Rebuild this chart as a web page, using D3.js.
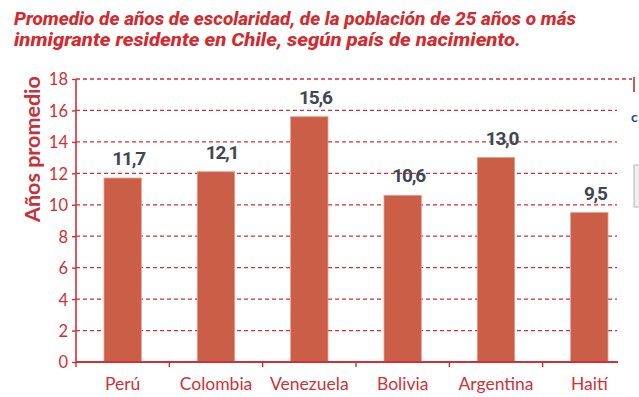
<!DOCTYPE html>
<html>
<head>
<meta charset="utf-8">
<script src="https://cdn.jsdelivr.net/npm/d3@7"></script>
<style>
  html, body { margin: 0; padding: 0; background: #fff; }
  svg { display: block; }
</style>
</head>
<body>
<svg id="chart" width="639" height="397"></svg>
<script>
const categories = ["Perú", "Colombia", "Venezuela", "Bolivia", "Argentina", "Haití"];
const values = [11.7, 12.1, 15.6, 10.6, 13.0, 9.5];
const valueLabels = ["11,7", "12,1", "15,6", "10,6", "13,0", "9,5"];
const yTicks = [0, 2, 4, 6, 8, 10, 12, 14, 16, 18];
const titleLines = [
  "Promedio de años de escolaridad, de la población de 25 años o más",
  "inmigrante residente en Chile, según país de nacimiento."
];
const yTitle = "Años promedio";

const svg = d3.select("#chart");
const red = "#cf3138";
const barFill = "#cb5e47";

const x = d3.scaleBand().domain(categories).range([76, 636]).paddingInner(0).paddingOuter(0);
const y = d3.scaleLinear().domain([0, 18]).range([362, 79]);

// Title
const titleFont = "'Roboto', 'Lato', sans-serif";
const titleWidths = [562, 507];
titleLines.forEach((t, i) => {
  svg.append("text")
    .attr("x", 14).attr("y", 25 + i * 21)
    .attr("font-family", titleFont)
    .attr("font-size", 18.5)
    .attr("font-weight", 800)
    .attr("font-style", "italic")
    .attr("fill", "#d42a2e")
    .attr("textLength", titleWidths[i])
    .attr("lengthAdjust", "spacingAndGlyphs")
    .text(t);
});

// Gridlines (dashed)
svg.append("g").selectAll("line")
  .data(yTicks.filter(d => d > 0))
  .join("line")
  .attr("x1", 76)
  .attr("x2", d => d === 18 ? 632 : 617)
  .attr("y1", d => y(d)).attr("y2", d => y(d))
  .attr("stroke", red)
  .attr("stroke-width", 1.3)
  .attr("stroke-dasharray", "4,3");

// Bars
const bw = x.bandwidth() * 0.4;
svg.append("g").selectAll("rect")
  .data(values)
  .join("rect")
  .attr("x", (d, i) => x(categories[i]) + x.bandwidth() / 2 - bw / 2)
  .attr("y", d => y(d))
  .attr("width", bw)
  .attr("height", d => y(0) - y(d))
  .attr("fill", barFill)
  .attr("stroke", "#e59a88")
  .attr("stroke-width", 0.8);

// Value labels
svg.append("g").selectAll("text")
  .data(values)
  .join("text")
  .attr("x", (d, i) => x(categories[i]) + x.bandwidth() / 2 + 6)
  .attr("y", d => y(d) - 13)
  .attr("text-anchor", "middle")
  .attr("font-family", "'Roboto', sans-serif")
  .attr("font-weight", 700)
  .attr("font-size", 19)
  .attr("letter-spacing", -1.2)
  .attr("fill", "#3f4852")
  .text((d, i) => valueLabels[i]);

// Y axis
const yAxis = svg.append("g").attr("transform", "translate(76,0)")
  .call(d3.axisLeft(y).tickValues(yTicks).tickSize(4).tickPadding(4).tickFormat(d3.format("d")));
yAxis.select(".domain").attr("stroke", red).attr("stroke-width", 1.6).attr("d", "M0," + y(18) + "V" + y(0));
yAxis.selectAll(".tick line").attr("stroke", red).attr("stroke-width", 1.4);
yAxis.selectAll(".tick text")
  .attr("fill", red)
  .attr("font-family", "'Lato', sans-serif")
  .attr("font-size", 16.5)
  .attr("dy", "0.36em");

// X axis
const xAxis = svg.append("g").attr("transform", "translate(0," + y(0) + ")")
  .call(d3.axisBottom(x).tickSize(0).tickPadding(16));
xAxis.select(".domain").attr("stroke", red).attr("stroke-width", 1.8).attr("d", "M76,0H618");
xAxis.selectAll(".tick text")
  .attr("fill", red)
  .attr("font-family", "'Lato', sans-serif")
  .attr("font-size", 17.5);
// category separator ticks
xAxis.append("g").selectAll("line")
  .data(categories)
  .join("line")
  .attr("x1", d => x(d)).attr("x2", d => x(d))
  .attr("y1", 0).attr("y2", 5)
  .attr("stroke", red)
  .attr("stroke-width", 1.4);

// Y axis title
svg.append("text")
  .attr("transform", "translate(40,149) rotate(-90)")
  .attr("text-anchor", "middle")
  .attr("font-family", "'Lato', sans-serif")
  .attr("font-weight", 700)
  .attr("font-size", 21.5)
  .attr("fill", "#c8313a")
  .text(yTitle);

// Cropped artefacts at right edge
svg.append("line").attr("x1", 634).attr("x2", 634).attr("y1", 77).attr("y2", 92)
  .attr("stroke", "#b83232").attr("stroke-width", 1.6);
svg.append("text").attr("x", 631).attr("y", 122)
  .attr("font-family", "'Lato', sans-serif").attr("font-weight", 700)
  .attr("font-size", 14).attr("fill", "#1d4f8f").text("c");
svg.append("rect").attr("x", 634).attr("y", 165).attr("width", 10).attr("height", 42)
  .attr("fill", "#eeeeee").attr("stroke", "#b8b8b8").attr("stroke-width", 1);
</script>
</body>
</html>
